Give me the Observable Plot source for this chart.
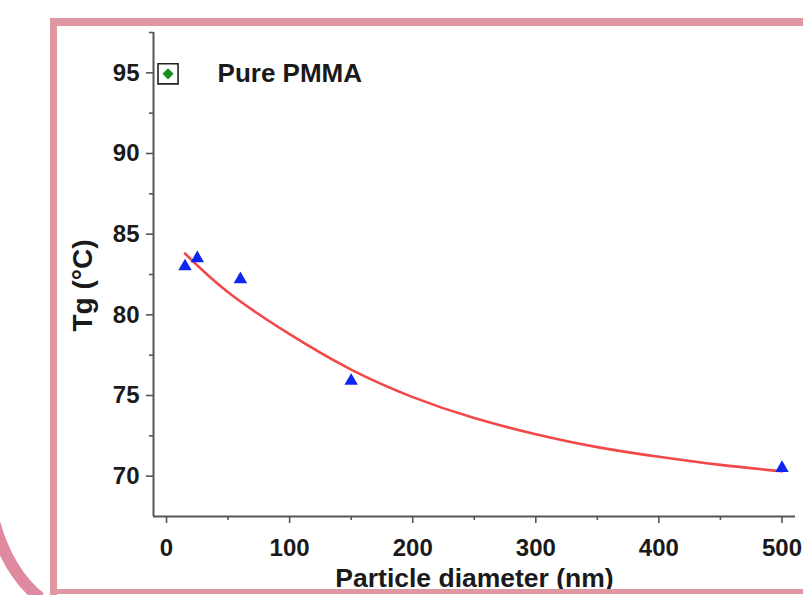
<!DOCTYPE html>
<html><head><meta charset="utf-8">
<script src="https://cdn.jsdelivr.net/npm/d3@7"></script>
<script src="https://cdn.jsdelivr.net/npm/@observablehq/plot@0.6"></script>
<style>
html,body{margin:0;padding:0;background:#fff;width:803px;height:595px;overflow:hidden;}
#wrap{position:relative;width:803px;height:595px;}
#chart{position:absolute;left:0;top:0;}
#chart svg text{font-family:"Liberation Sans",Arial,sans-serif;font-weight:bold;fill:#1a1a1a;}
.fr{position:absolute;background:#df97a1;}
</style></head><body>
<div id="wrap"><div id="chart"></div>
<div class="fr" style="left:50px;top:18px;width:753px;height:8px"></div>
<div class="fr" style="left:50px;top:18px;width:7px;height:577px"></div>
<div class="fr" style="left:50px;top:589px;width:753px;height:5px"></div>
<svg style="position:absolute;left:0;top:0" width="60" height="595"><path d="M -6 522 Q 8 572 40 598" stroke="#e08aa2" stroke-width="12" fill="none"/></svg>
</div>
<script>
// Measured data (particle diameter in nm, Tg in °C)
const diameters = [15, 25, 60, 150, 500];
const tgValues = [83.0, 83.5, 82.2, 75.9, 70.5];
// Fitted curve
const fitDiameters = [15, 50, 100, 150, 200, 250, 300, 350, 400, 450, 500];
const fitTg = [83.8, 81.4, 78.8, 76.6, 74.9, 73.6, 72.6, 71.8, 71.2, 70.7, 70.3];
// Pure PMMA reference point
const pureDiameter = [0];
const pureTg = [95];
const pureLabel = ["Pure PMMA"];
// Axes
const xTicks = [0, 100, 200, 300, 400, 500];
const xMinorTicks = [50, 150, 250, 350, 450];
const yTicks = [70, 75, 80, 85, 90, 95];
const yMinorTicks = [72.5, 77.5, 82.5, 87.5, 92.5, 97.5];
const xDomain = [-10.6, 511];
const yDomain = [67.5, 97.5];
const xLabel = "Particle diameter (nm)";
const yLabel = "Tg (°C)";

const points = diameters.map((d, i) => ({d, tg: tgValues[i]}));
const fit = fitDiameters.map((d, i) => ({d, tg: fitTg[i]}));
const pure = pureDiameter.map((d, i) => ({d, tg: pureTg[i], label: pureLabel[i]}));

const axisColor = "#555";
const svg = Plot.plot({
  width: 803, height: 595,
  marginLeft: 153, marginTop: 32, marginRight: 8, marginBottom: 79,
  style: {background: "transparent"},
  x: {domain: xDomain},
  y: {domain: yDomain},
  marks: [
    Plot.ruleX([xDomain[0]], {stroke: axisColor, strokeWidth: 2}),
    Plot.ruleY([yDomain[0]], {stroke: axisColor, strokeWidth: 2}),
    Plot.axisX({ticks: xTicks, tickSize: 7, tickPadding: 15, fontSize: 24, label: null, stroke: axisColor, strokeWidth: 1.6, tickFormat: d => String(d)}),
    Plot.axisX({ticks: xMinorTicks, tickSize: 4, text: null, label: null, stroke: axisColor, strokeWidth: 1.6}),
    Plot.axisY({ticks: yTicks, tickSize: 7, tickPadding: 7, fontSize: 24, label: null, stroke: axisColor, strokeWidth: 1.6, tickFormat: d => String(d)}),
    Plot.axisY({ticks: yMinorTicks, tickSize: 4, text: null, label: null, stroke: axisColor, strokeWidth: 1.6}),
    Plot.text([yLabel], {frameAnchor: "left", rotate: -90, textAnchor: "middle", lineAnchor: "middle", dx: -70, dy: 11, fontSize: 28}),
    Plot.text([xLabel], {frameAnchor: "bottom", textAnchor: "middle", lineAnchor: "middle", dy: 62, fontSize: 26.5}),
    Plot.line(fit, {x: "d", y: "tg", stroke: "#f24848", strokeWidth: 2.6, curve: "natural"}),
    Plot.dot(points, {x: "d", y: "tg", symbol: "triangle", r: 5, fill: "#1024f0"}),
    Plot.dot(pure, {x: "d", y: "tg", symbol: "square", r: 11.3, dx: 1.5, dy: 1, fill: "white", stroke: "#222", strokeWidth: 1.6}),
    Plot.dot(pure, {x: "d", y: "tg", symbol: "diamond2", r: 5, dx: 1.5, dy: 1, fill: "#16901a"}),
    Plot.text(pure, {x: "d", y: "tg", text: "label", dx: 51, dy: 1, textAnchor: "start", fontSize: 26})
  ]
});
document.getElementById("chart").appendChild(svg);
</script>
</body></html>
